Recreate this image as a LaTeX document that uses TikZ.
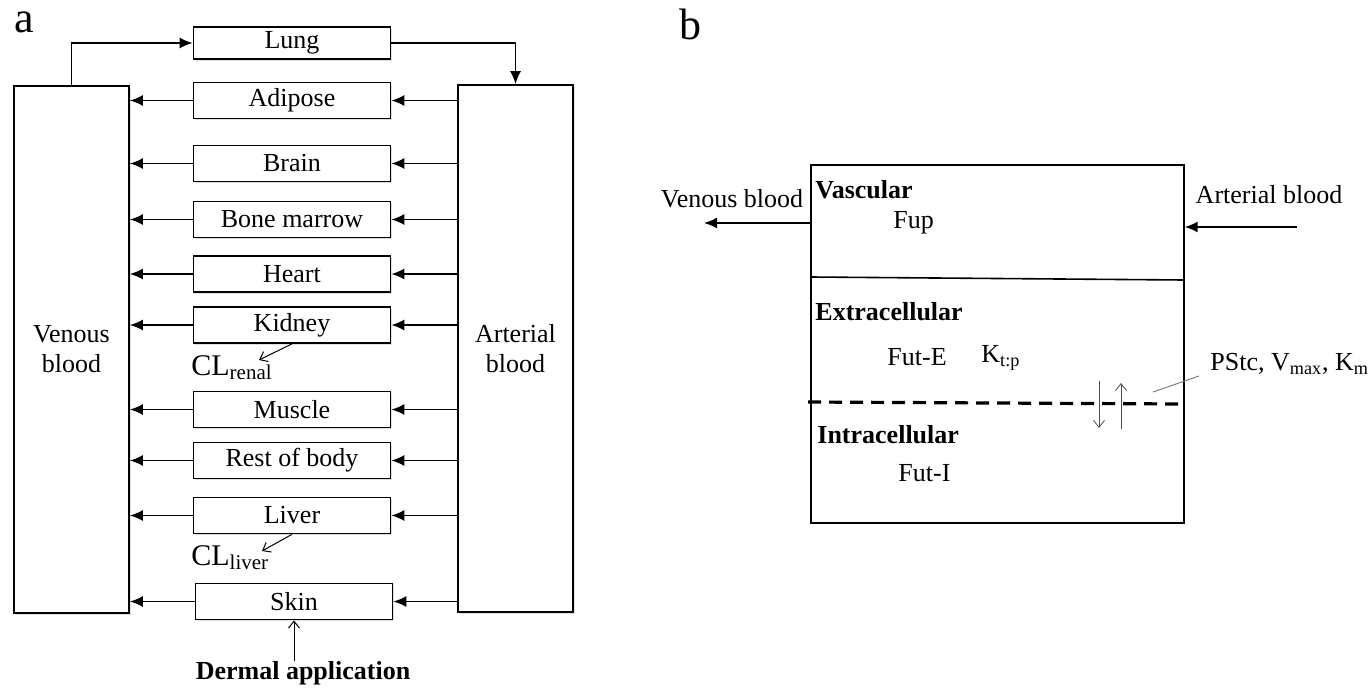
\documentclass[tikz,border=0pt]{standalone}
\usepackage{fontspec}
\setmainfont{Liberation Serif}
\usetikzlibrary{arrows.meta, shadows}

\tikzset{
  organ/.style={draw, line width=0.85pt, fill=white, minimum width=98.5pt, minimum height=18pt,
    inner sep=0pt, font=\fontsize{13}{15}\selectfont,
    drop shadow={shadow xshift=0.8pt, shadow yshift=-0.8pt, fill=black!25}},
  blood/.style={organ, minimum width=57.5pt, minimum height=263.5pt, align=center},
  flow/.style={line width=0.8pt, -{Latex[length=6.5pt,width=5.5pt]}},
  clear/.style={line width=0.5pt, -{Straight Barb[length=3.5pt,width=5.5pt]}},
  txt/.style={font=\fontsize{13}{15}\selectfont, inner sep=0pt},
  cl/.style={font=\fontsize{15}{17}\selectfont, inner sep=0pt, anchor=base west},
  panel/.style={font=\fontsize{22}{24}\selectfont, inner sep=0pt}
}

\begin{document}
\begin{tikzpicture}[x=0.5pt, y=-0.5pt]
\useasboundingbox (0,0) rectangle (1369,690);
\node[panel] (la) at (24,22) {a};
\node[panel] (lb) at (690,24) {b};

\node[blood] (venous) at (71.5,349.5) {Venous\\blood};
\node[blood] (arterial) at (515.5,348.5) {Arterial\\blood};

\node[organ, minimum height=16pt] (lung) at (292,43) {Lung};
\node[organ] (adipose) at (292,100.5) {Adipose};
\node[organ] (brain) at (292,163.5) {Brain};
\node[organ] (marrow) at (292,219.5) {Bone marrow};
\node[organ] (heart) at (292,274) {Heart};
\node[organ] (kidney) at (292,325) {Kidney};
\node[organ] (muscle) at (292,409.5) {Muscle};
\node[organ] (rest) at (292,460.5) {Rest of body};
\node[organ] (liver) at (292,515.5) {Liver};
\node[organ] (skin) at (294,601.5) {Skin};

\node[cl] (clrenal) at (191,375) {CL\textsubscript{renal}};
\node[cl] (clliver) at (191,565) {CL\textsubscript{liver}};
\node[txt, font=\fontsize{13}{15}\selectfont\bfseries] (dermal) at (303,673) {Dermal application};
\coordinate (clr) at (259,360);
\coordinate (cll) at (262,551);

\draw[flow] (venous.north) |- (lung.west);
\draw[flow] (lung.east) -| (arterial.north);
\draw[flow] (adipose.west) -- (adipose.west -| venous.east);
\draw[flow] (adipose.east -| arterial.west) -- (adipose.east);
\draw[flow] (brain.west) -- (brain.west -| venous.east);
\draw[flow] (brain.east -| arterial.west) -- (brain.east);
\draw[flow] (marrow.west) -- (marrow.west -| venous.east);
\draw[flow] (marrow.east -| arterial.west) -- (marrow.east);
\draw[flow] (heart.west) -- (heart.west -| venous.east);
\draw[flow] (heart.east -| arterial.west) -- (heart.east);
\draw[flow] (kidney.west) -- (kidney.west -| venous.east);
\draw[flow] (kidney.east -| arterial.west) -- (kidney.east);
\draw[flow] (muscle.west) -- (muscle.west -| venous.east);
\draw[flow] (muscle.east -| arterial.west) -- (muscle.east);
\draw[flow] (rest.west) -- (rest.west -| venous.east);
\draw[flow] (rest.east -| arterial.west) -- (rest.east);
\draw[flow] (liver.west) -- (liver.west -| venous.east);
\draw[flow] (liver.east -| arterial.west) -- (liver.east);
\draw[flow] (skin.west) -- (skin.west -| venous.east);
\draw[flow] (skin.east -| arterial.west) -- (skin.east);
\draw[clear] (kidney.south) -- (clr);
\draw[clear] (liver.south) -- (cll);
\draw[clear] (skin.south |- dermal.north) -- (skin.south);

\node[draw, line width=0.7pt, minimum width=186.5pt, minimum height=179pt, inner sep=0pt] (tissue) at (997.5,344) {};
\draw[line width=0.8pt] (811,277) -- (1184,280);
\draw[line width=1.6pt, dash pattern=on 6.5pt off 4pt] (808,402) -- (1181,404);
\node[txt, anchor=west, font=\fontsize{13}{15}\selectfont\bfseries] (vascular) at (815,190) {Vascular};
\node[txt, anchor=west] (fup) at (893,223) {Fup};
\node[txt, anchor=west, font=\fontsize{13}{15}\selectfont\bfseries] (extra) at (815,312) {Extracellular};
\node[txt, anchor=west] (fute) at (887,357) {Fut-E};
\node[txt, anchor=west] (ktp) at (981,358) {K\textsubscript{t:p}};
\node[txt, anchor=west, font=\fontsize{13}{15}\selectfont\bfseries] (intra) at (817,435) {Intracellular};
\node[txt, anchor=west] (futi) at (898,473) {Fut-I};
\node[txt] (venb) at (732,199) {Venous blood};
\node[txt] (artb) at (1269,195) {Arterial blood};
\node[txt, anchor=west] (pstc) at (1210,364) {PStc, V\textsubscript{max}, K\textsubscript{m}};
\coordinate (vout) at (704,223);
\coordinate (ain) at (1297,227);
\coordinate (lead) at (1153,392);
\coordinate (dtop) at (1099,381);
\coordinate (dbot) at (1099,428);
\coordinate (ubot) at (1121,429);
\coordinate (utop) at (1121,383);
\draw[flow] (vout -| tissue.west) -- (vout);
\draw[flow] (ain) -- (ain -| tissue.east);
\draw[gray, line width=0.5pt] (lead) -- ([xshift=-5.5pt,yshift=-6pt]pstc.west);
\draw[clear, black!70, line width=0.4pt] (dtop) -- (dbot);
\draw[clear, black!70, line width=0.4pt] (ubot) -- (utop);
\end{tikzpicture}
\end{document}
